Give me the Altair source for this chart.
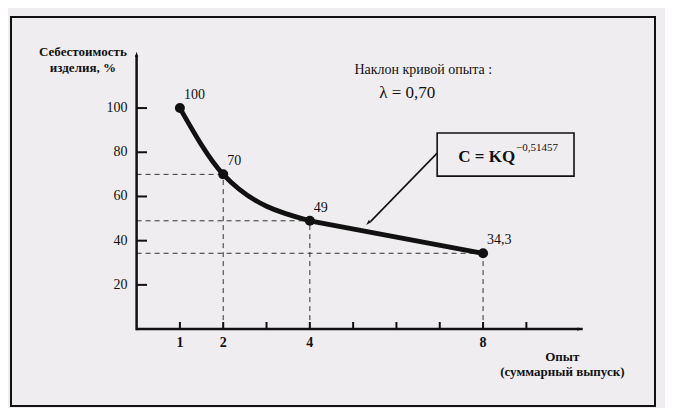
import altair as alt
import pandas as pd

# ---- data ----
q = [1, 2, 4, 8]
cost = [100, 70, 49, 34.3]
value_labels = ["100", "70", "49", "34,3"]
guide_q = [2, 4, 8]
guide_cost = [70, 49, 34.3]
x_ticks = [1, 2, 3, 4, 5, 6, 7, 8, 9]
x_tick_labels = [1, 2, 4, 8]
y_ticks = [20, 40, 60, 80, 100]

FONT = "Liberation Serif"
INK = "#111111"
BG = "#efedef"

xs = alt.Scale(domain=[-2.9, 11.97], nice=False, zero=False)
ys = alt.Scale(domain=[-34.8, 141.2], nice=False, zero=False)


def X(f):
    return alt.X(f, type="quantitative", scale=xs, axis=None)


def Y(f):
    return alt.Y(f, type="quantitative", scale=ys, axis=None)


def txt(**kw):
    base = dict(font=FONT, fill=INK, color=INK)
    base.update(kw)
    return base


pts = pd.DataFrame({"q": q, "c": cost, "lab": value_labels})
curve_head = pts.iloc[:3]
curve_tail = pts.iloc[2:]
guides = pd.DataFrame({"q": guide_q, "c": guide_cost, "zero": [0] * len(guide_q)})

hdash = alt.Chart(guides).mark_rule(strokeDash=[5, 4], strokeWidth=1, color="#333333").encode(
    x=X("zero"), x2=alt.X2("q"), y=Y("c"))
vdash = alt.Chart(guides).mark_rule(strokeDash=[5, 4], strokeWidth=1, color="#333333").encode(
    x=X("q"), y=Y("zero"), y2=alt.Y2("c"))

curve1 = alt.Chart(curve_head).mark_line(interpolate="monotone", strokeWidth=4.8, color=INK,
                                         strokeCap="round").encode(x=X("q"), y=Y("c"))
curve2 = alt.Chart(curve_tail).mark_line(interpolate="linear", strokeWidth=4.8, color=INK,
                                         strokeCap="round").encode(x=X("q"), y=Y("c"))
dots = alt.Chart(pts).mark_circle(size=100, opacity=1, color=INK).encode(x=X("q"), y=Y("c"))
vlabels = alt.Chart(pts).mark_text(**txt(align="left", baseline="middle", dx=4, dy=-13,
                                         fontSize=14)).encode(
    x=X("q"), y=Y("c"), text="lab:N")

# axes
axes_df = pd.DataFrame({"x": [0, 0], "x2": [10.3, 0], "y": [0, -0.5], "y2": [0, 124]})
axes = alt.Chart(axes_df).mark_rule(strokeWidth=2.5, color=INK).encode(
    x=X("x"), x2=alt.X2("x2"), y=Y("y"), y2=alt.Y2("y2"))

xt_df = pd.DataFrame({"t": x_ticks, "a": [0] * len(x_ticks), "b": [3.2] * len(x_ticks)})
xt = alt.Chart(xt_df).mark_rule(strokeWidth=2, color=INK).encode(
    x=X("t"), y=Y("a"), y2=alt.Y2("b"))
yt_df = pd.DataFrame({"t": y_ticks, "a": [0] * len(y_ticks), "b": [0.24] * len(y_ticks)})
yt = alt.Chart(yt_df).mark_rule(strokeWidth=2, color=INK).encode(
    x=X("a"), x2=alt.X2("b"), y=Y("t"))

xl_df = pd.DataFrame({"t": x_tick_labels, "a": [0] * len(x_tick_labels)})
xl = alt.Chart(xl_df).mark_text(**txt(baseline="middle", dy=14, fontSize=14,
                                      fontWeight="bold")).encode(
    x=X("t"), y=Y("a"), text="t:N")
yl_df = pd.DataFrame({"t": y_ticks, "a": [0] * len(y_ticks)})
yl = alt.Chart(yl_df).mark_text(**txt(align="right", baseline="middle", dx=-9,
                                      fontSize=14)).encode(
    x=X("a"), y=Y("t"), text="t:N")

# arrowheads (axis ends and the annotation arrow)
HEAD = "M0,0L-0.42,1.4L0.42,1.4Z"
heads_df = pd.DataFrame({"x": [0, 10.3, 5.30], "y": [125.5, 0, 47.1], "ang": [0, 90, 225]})
heads = alt.Chart(heads_df).mark_point(shape=HEAD, filled=True, size=60, opacity=1,
                                       color=INK, strokeWidth=0).encode(
    x=X("x"), y=Y("y"), angle=alt.Angle("ang:Q", scale=None))

arrow_df = pd.DataFrame({"x": [6.94], "y": [79.6], "x2": [5.40], "y2": [48.6]})
arrow = alt.Chart(arrow_df).mark_rule(strokeWidth=1.6, color=INK).encode(
    x=X("x"), y=Y("y"), x2=alt.X2("x2"), y2=alt.Y2("y2"))

box_df = pd.DataFrame({"x": [6.94], "x2": [10.1], "y": [88.7], "y2": [69.2]})
box = alt.Chart(box_df).mark_rect(fill=BG, stroke=INK, strokeWidth=1.6).encode(
    x=X("x"), x2=alt.X2("x2"), y=Y("y"), y2=alt.Y2("y2"))

# text annotations
titles_df = pd.DataFrame({
    "text": ["Себестоимость", "изделия, %", "Опыт", "(суммарный выпуск)"],
    "x": [-1.24, -1.24, 9.83, 9.83],
    "y": [125.3, 118.1, -12.7, -19.5],
})
titles = alt.Chart(titles_df).mark_text(**txt(baseline="middle", fontSize=13,
                                              fontWeight="bold")).encode(
    x=X("x"), y=Y("y"), text="text:N")

slope_df = pd.DataFrame({"text": ["Наклон кривой опыта :"], "x": [6.62], "y": [117.2]})
slope = alt.Chart(slope_df).mark_text(**txt(baseline="middle", fontSize=14)).encode(
    x=X("x"), y=Y("y"), text="text:N")
lam_df = pd.DataFrame({"text": ["λ = 0,70"], "x": [6.25], "y": [106.8]})
lam = alt.Chart(lam_df).mark_text(**txt(baseline="middle", fontSize=17)).encode(
    x=X("x"), y=Y("y"), text="text:N")

eq_df = pd.DataFrame({"text": ["C = KQ"], "x": [8.74], "y": [75.6]})
eq = alt.Chart(eq_df).mark_text(**txt(align="right", baseline="alphabetic", fontSize=17,
                                      fontWeight="bold")).encode(
    x=X("x"), y=Y("y"), text="text:N")
exp_df = pd.DataFrame({"text": ["−0,51457"], "x": [8.76], "y": [80.6]})
expo = alt.Chart(exp_df).mark_text(**txt(align="left", baseline="alphabetic",
                                         fontSize=11)).encode(
    x=X("x"), y=Y("y"), text="text:N")

chart = alt.layer(
    hdash, vdash, axes, xt, yt, xl, yl, curve1, curve2, dots, vlabels,
    arrow, heads, box, titles, slope, lam, eq, expo,
).properties(
    width=644, height=389,
    padding={"left": 3, "top": 9, "right": 10, "bottom": 2},
    background=BG,
).configure_view(stroke=INK, strokeWidth=2, fill=BG)

chart.save("out.html", embed_options={"renderer": "svg", "actions": False})
